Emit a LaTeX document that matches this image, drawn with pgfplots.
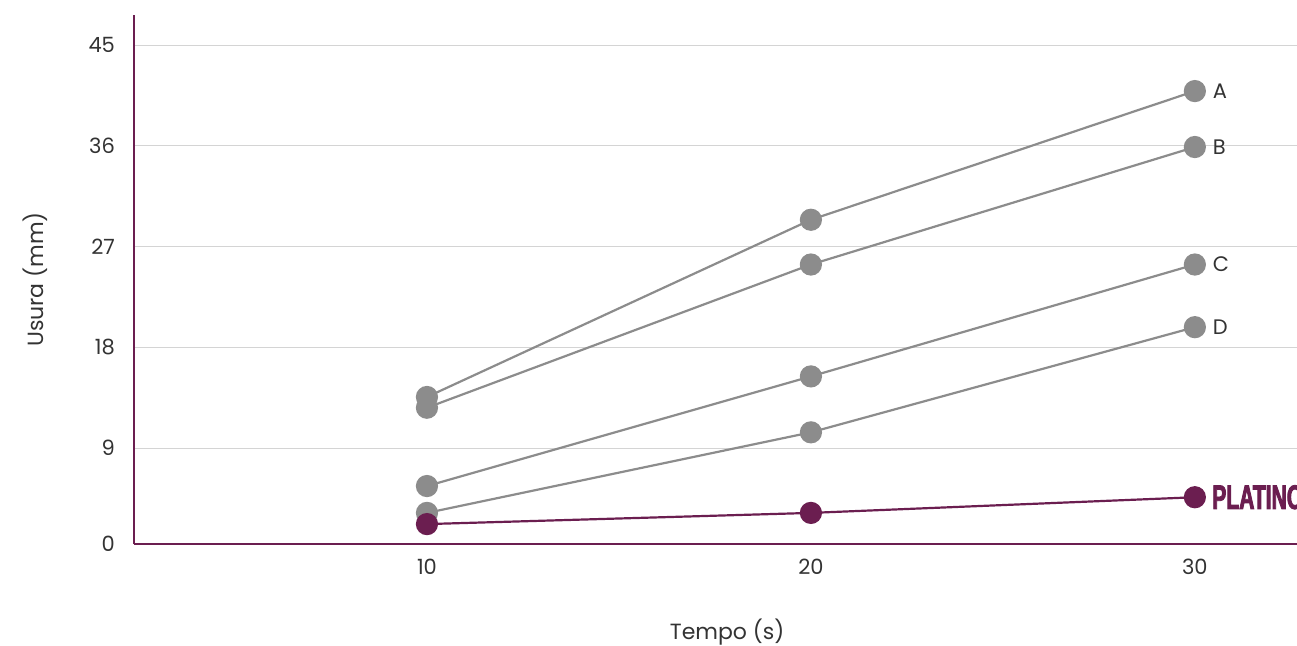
\documentclass[border=0pt]{standalone}
\usepackage{pgfplots}
\pgfplotsset{compat=1.18}
\usepackage{fontspec}
\setmainfont{Poppins}
\newfontfamily\platfont[FakeStretch=0.62,FakeBold=2.5]{Liberation Sans}
\usetikzlibrary{calc}
\definecolor{plum}{RGB}{107,30,80}
\definecolor{greyline}{RGB}{140,140,140}
\definecolor{gridgrey}{RGB}{212,212,212}
\definecolor{txt}{RGB}{51,51,51}
\begin{document}
\begin{tikzpicture}
\begin{axis}[
  name=ax,
  scale only axis,
  width=581.5pt, height=264.5pt,
  xmin=2.37, xmax=32.66,
  ymin=0.42, ymax=47.7,
  axis x line*=bottom, axis y line*=left,
  axis line style={plum, line width=1.1pt, -},
  xtick={10,20,30},
  ytick={0.42,9,18,27,36,45},
  yticklabels={0,9,18,27,36,45},
  major tick length=0pt,
  ymajorgrids,
  grid style={gridgrey, line width=0.5pt},
  tick label style={font=\fontsize{10.5}{12}\selectfont, text=txt},
  xticklabel style={yshift=-4pt},
  yticklabel style={xshift=-6pt},
  /pgf/number format/assume math mode=true,
  xlabel={Tempo (s)}, ylabel={Usura (mm)},
  label style={font=\fontsize{11}{13}\selectfont, text=txt},
  xlabel style={at={(axis description cs:0.51,-0.166)}, anchor=center},
  ylabel style={at={(axis description cs:-0.085,0.5)}, anchor=center},
  clip=false,
  every axis plot/.append style={line width=1.1pt},
]
\addplot[greyline, mark=*, mark size=5pt, mark options={fill=greyline, draw=none}] coordinates {(10,13.56) (20,29.4) (30,40.9)};
\addplot[greyline, mark=*, mark size=5pt, mark options={fill=greyline, draw=none}] coordinates {(10,12.6) (20,25.4) (30,35.9)};
\addplot[greyline, mark=*, mark size=5pt, mark options={fill=greyline, draw=none}] coordinates {(10,5.6) (20,15.4) (30,25.4)};
\addplot[greyline, mark=*, mark size=5pt, mark options={fill=greyline, draw=none}] coordinates {(10,3.2) (20,10.4) (30,19.8)};
\addplot[plum, mark=*, mark size=5pt, mark options={fill=plum, draw=none}] coordinates {(10,2.2) (20,3.2) (30,4.6)};
\node[anchor=west, text=txt, font=\fontsize{10.5}{12}\selectfont, xshift=5.5pt] at (axis cs:30,40.9) {A};
\node[anchor=west, text=txt, font=\fontsize{10.5}{12}\selectfont, xshift=5.5pt] at (axis cs:30,35.9) {B};
\node[anchor=west, text=txt, font=\fontsize{10.5}{12}\selectfont, xshift=5.5pt] at (axis cs:30,25.4) {C};
\node[anchor=west, text=txt, font=\fontsize{10.5}{12}\selectfont, xshift=5.5pt] at (axis cs:30,19.8) {D};
\node[anchor=west, text=plum, font=\platfont\bfseries\fontsize{17}{19}\selectfont, xshift=7.5pt, inner sep=1pt] at (axis cs:30,4.6) {PLATINO};
\end{axis}
\pgfresetboundingbox
\path[use as bounding box] ($(ax.south west)+(-67pt,-50.5pt)$) rectangle ($(ax.north east)+(0,7.5pt)$);
\end{tikzpicture}
\end{document}
